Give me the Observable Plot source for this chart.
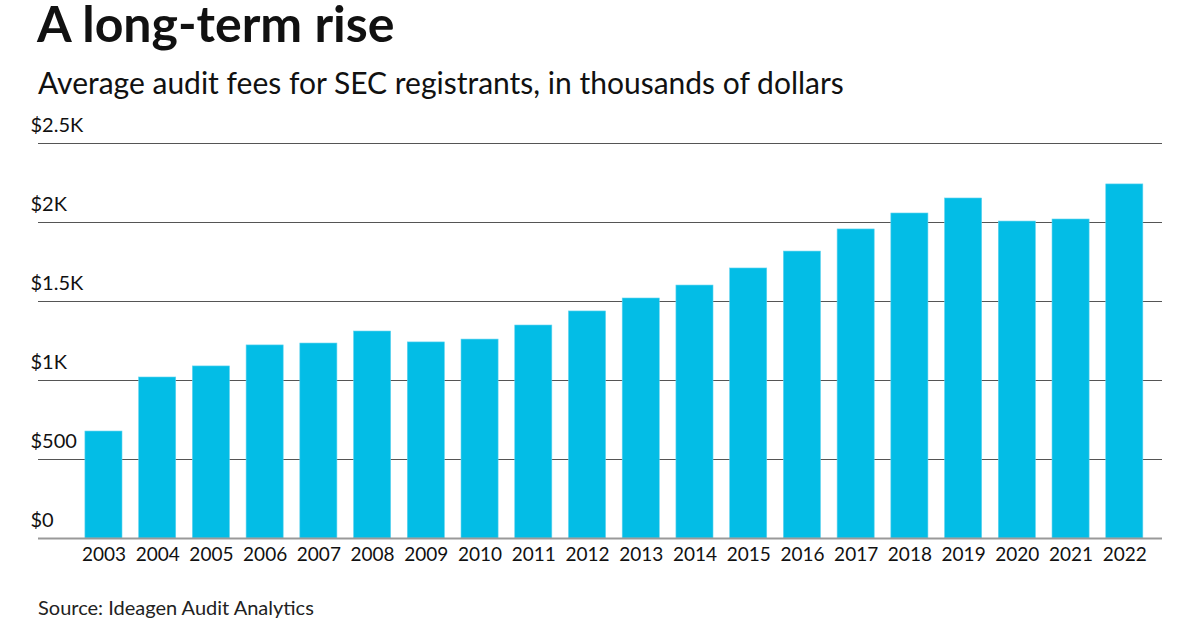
<!DOCTYPE html>
<html><head><meta charset="utf-8">
<script src="https://cdn.jsdelivr.net/npm/d3@7"></script>
<script src="https://cdn.jsdelivr.net/npm/@observablehq/plot@0.6"></script>
<style>
body{margin:0;background:#fff;width:1200px;height:630px;overflow:hidden;position:relative;font-family:Lato,"Noto Sans",sans-serif;color:#111;}
#title{position:absolute;left:37px;top:0px;line-height:46px;font-size:50px;font-weight:700;white-space:nowrap;}
#subtitle{position:absolute;left:38px;top:64px;font-size:30px;font-weight:400;white-space:nowrap;}
#chart{position:absolute;left:0;top:110px;}
#source{position:absolute;left:38px;top:595px;font-size:20px;color:#222;white-space:nowrap;}
</style></head>
<body>
<div id="title">A long-term rise</div>
<div id="subtitle">Average audit fees for SEC registrants, in thousands of dollars</div>
<div id="chart"></div>
<div id="source">Source: Ideagen Audit Analytics</div>
<script>
const years = ["2003","2004","2005","2006","2007","2008","2009","2010","2011","2012","2013","2014","2015","2016","2017","2018","2019","2020","2021","2022"];
const fees = [677,1019,1089,1222,1234,1310,1241,1259,1348,1437,1519,1601,1709,1816,1956,2057,2152,2006,2019,2241];
const tickValues = [0,500,1000,1500,2000,2500];
const tickLabels = ["$0","$500","$1K","$1.5K","$2K","$2.5K"];

const data = years.map((y,i)=>({year:y, fee:fees[i]}));
const ticks = tickValues.map((v,i)=>({v, label:tickLabels[i]}));
const gridTicks = ticks.filter(t => t.v !== 0);

const chart = Plot.plot({
  width:1200, height:470,
  marginLeft:38, marginRight:38, marginTop:33, marginBottom:42,
  style:{fontFamily:"Lato, 'Noto Sans', sans-serif", fontSize:"19px", color:"#111", background:"transparent"},
  x:{domain:years, paddingInner:0.31, paddingOuter:0.615, align:0.71, round:false, label:null},
  y:{domain:[0,2500], label:null, axis:null},
  marks:[
    Plot.ruleY(gridTicks, {y:"v", stroke:"#555", strokeWidth:1.2}),
    Plot.barY(data, {x:"year", y:"fee", fill:"#03bde6", stroke:"#5fd3ef", strokeWidth:0.6}),
    Plot.ruleY([0], {stroke:"#999", strokeWidth:2}),
    Plot.text(ticks, {y:"v", text:"label", frameAnchor:"left", textAnchor:"start", dx:-8, dy:-18, fontSize:20, fill:"#111"}),
    Plot.axisX({tickSize:0, tickPadding:9, fontSize:19, fill:"#111"})
  ]
});
document.getElementById("chart").appendChild(chart);
</script>
</body></html>
